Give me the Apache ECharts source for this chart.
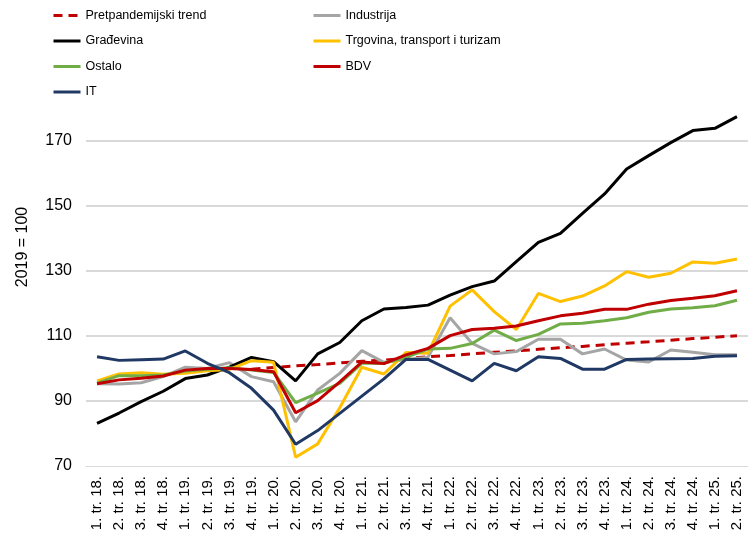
<!DOCTYPE html>
<html lang="hr">
<head>
<meta charset="utf-8">
<title>BDV po djelatnostima</title>
<script src="https://cdn.jsdelivr.net/npm/echarts@6/dist/echarts.min.js"></script>
</head>
<body style="margin:0;background:#fff">
<div id="main" style="width:748px;height:536px;"></div>
<script>
// kvartali
var kvartali = ['1. tr. 18.', '2. tr. 18.', '3. tr. 18.', '4. tr. 18.',
    '1. tr. 19.', '2. tr. 19.', '3. tr. 19.', '4. tr. 19.',
    '1. tr. 20.', '2. tr. 20.', '3. tr. 20.', '4. tr. 20.',
    '1. tr. 21.', '2. tr. 21.', '3. tr. 21.', '4. tr. 21.',
    '1. tr. 22.', '2. tr. 22.', '3. tr. 22.', '4. tr. 22.',
    '1. tr. 23.', '2. tr. 23.', '3. tr. 23.', '4. tr. 23.',
    '1. tr. 24.', '2. tr. 24.', '3. tr. 24.', '4. tr. 24.',
    '1. tr. 25.', '2. tr. 25.'];

// 2019 = 100
var trend = [null, null, null, null, null, null, null,
    99.8, 100.3, 100.8, 101.2, 101.7, 102.2, 102.6, 103.1, 103.6, 104.0, 104.5,
    105.0, 105.4, 105.9, 106.4, 106.8, 107.3, 107.8, 108.2, 108.7, 109.2, 109.6, 110.1];
var industrija = [95.3, 95.2, 95.6, 97.5, 100.4, 100.0, 101.8, 97.5, 95.9, 83.6,
    93.4, 98.5, 105.5, 101.9, 102.8, 103.5, 115.6, 107.7, 104.5, 105.2,
    109.0, 109.0, 104.5, 106.0, 102.6, 102.0, 105.7, 105.0, 104.2, 104.2];
var gradevina = [83.1, 86.3, 89.8, 93.0, 96.9, 98.0, 100.4, 103.4, 102.1, 96.2,
    104.5, 108.0, 114.7, 118.3, 118.8, 119.5, 122.6, 125.2, 126.9, 132.9,
    138.8, 141.6, 147.7, 153.7, 161.4, 165.5, 169.5, 173.2, 173.9, 177.5];
var trgovina = [96.2, 98.3, 98.7, 98.2, 98.5, 99.3, 99.7, 102.4, 101.9, 72.7,
    76.8, 87.9, 100.4, 98.3, 104.9, 104.7, 119.2, 124.2, 117.5, 112.0,
    123.1, 120.6, 122.3, 125.4, 129.8, 128.1, 129.3, 132.8, 132.4, 133.7];
var ostalo = [95.5, 97.8, 97.8, 98.0, 99.2, 99.8, 100.2, 99.5, 98.8, 89.5,
    92.4, 95.4, 101.6, 101.6, 103.4, 106.0, 106.2, 107.7, 111.8, 108.6,
    110.5, 113.7, 113.9, 114.7, 115.6, 117.3, 118.3, 118.7, 119.3, 121.0];
var bdv = [95.3, 96.5, 97.0, 97.7, 99.5, 100.0, 100.0, 99.7, 99.0, 86.4,
    90.1, 95.9, 102.0, 101.5, 104.2, 106.2, 110.1, 112.0, 112.4, 113.1,
    114.7, 116.2, 117.0, 118.2, 118.2, 119.8, 120.9, 121.6, 122.4, 123.9];
var it = [103.6, 102.5, 102.7, 102.9, 105.4, 101.6, 98.7, 93.9, 87.2, 76.7,
    80.9, 86.2, 91.5, 96.8, 102.8, 102.8, 99.5, 96.2, 101.6, 99.3,
    103.6, 103.1, 99.8, 99.8, 102.8, 102.9, 103.0, 103.1, 103.8, 103.9];

var arial = "'Liberation Sans', Arial, sans-serif";

function linija(ime, podaci, boja, tip) {
    return {
        name: ime,
        type: 'line',
        data: podaci,
        showSymbol: false,
        symbol: 'none',
        clip: false,
        itemStyle: { color: boja },
        lineStyle: { color: boja, width: 3, type: tip || 'solid' },
        emphasis: { disabled: true }
    };
}

var myChart = echarts.init(document.getElementById('main'));

// legenda u dva stupca
var legendaStil = {
    orient: 'vertical',
    top: 9,
    padding: 0,
    itemWidth: 27,
    itemHeight: 14,
    itemGap: 12.5,
    itemStyle: { opacity: 0 },
    lineStyle: { width: 3 },
    textStyle: { fontFamily: arial, fontSize: 12.5, color: '#000' }
};

var option = {
    animation: false,
    legend: [
        Object.assign({ left: 52, data: ['Pretpandemijski trend', 'Građevina', 'Ostalo', 'IT'] }, legendaStil),
        Object.assign({ left: 312, data: ['Industrija', 'Trgovina, transport i turizam', 'BDV'] }, legendaStil)
    ],
    grid: { left: 86, right: -4, top: 141, bottom: 70 },
    graphic: [{
        type: 'text',
        x: 23,
        y: 247,
        rotation: Math.PI / 2,
        style: {
            text: '2019 = 100',
            font: '16px ' + arial,
            fill: '#000',
            align: 'center',
            verticalAlign: 'middle'
        }
    }],
    xAxis: {
        type: 'category',
        data: kvartali,
        boundaryGap: true,
        axisLine: { lineStyle: { color: '#d9d9d9', width: 1 } },
        axisTick: { show: false },
        axisLabel: {
            rotate: 90,
            margin: 10,
            interval: 0,
            fontFamily: arial,
            fontSize: 15,
            color: '#000'
        }
    },
    yAxis: {
        type: 'value',
        min: 70,
        max: 170,
        interval: 20,
        axisLine: { show: false },
        axisTick: { show: false },
        axisLabel: { margin: 14, fontFamily: arial, fontSize: 16, color: '#000' },
        splitLine: { showMinLine: false, lineStyle: { color: '#d9d9d9', width: 2 } }
    },
    series: [
        linija('Pretpandemijski trend', trend, '#c00000', [9, 6]),
        linija('Industrija', industrija, '#a5a5a5'),
        linija('Građevina', gradevina, '#000000'),
        linija('Trgovina, transport i turizam', trgovina, '#ffc000'),
        linija('Ostalo', ostalo, '#70ad47'),
        linija('BDV', bdv, '#c00000'),
        linija('IT', it, '#203864')
    ]
};

myChart.setOption(option);
</script>
</body>
</html>
